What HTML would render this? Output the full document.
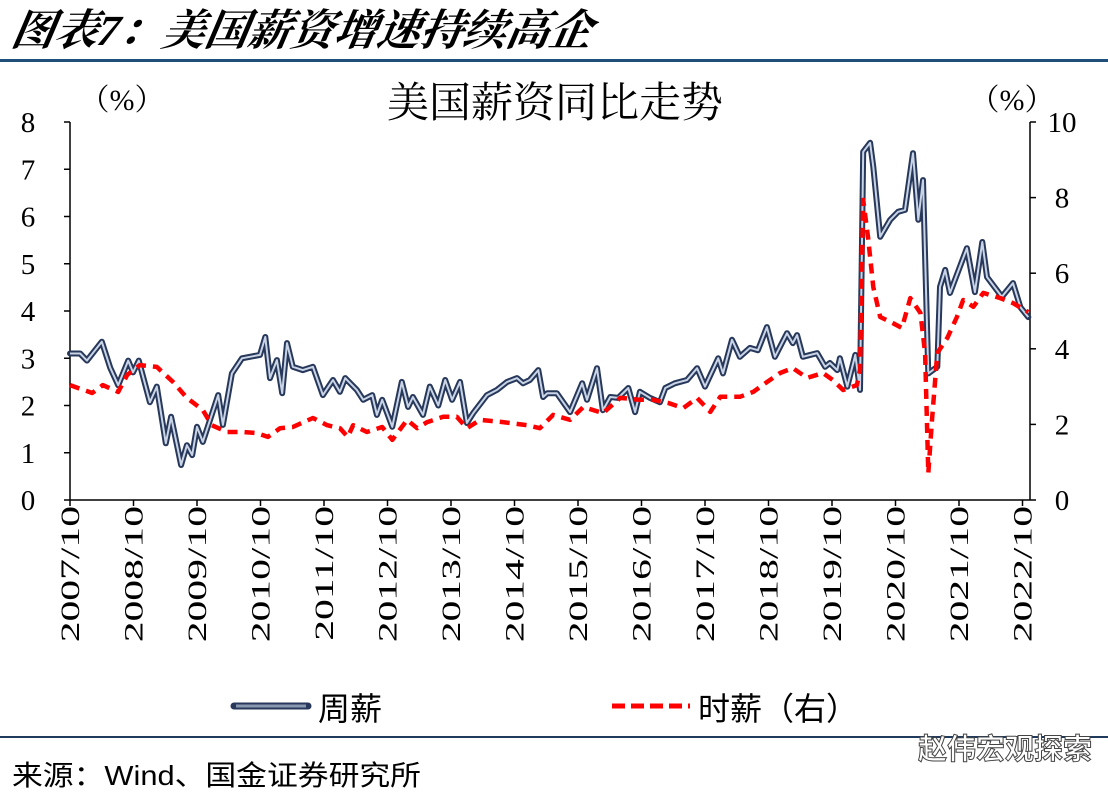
<!DOCTYPE html>
<html><head><meta charset="utf-8">
<style>
html,body{margin:0;padding:0;background:#fff;}
body{width:1108px;height:798px;position:relative;overflow:hidden;font-family:"Liberation Serif","Noto Serif CJK SC",serif;}
.t{position:absolute;white-space:nowrap;}
</style></head>
<body>
<div class="t" style="left:12px;top:7px;font-size:43px;font-style:italic;font-weight:bold;font-family:'Liberation Serif','Noto Serif CJK SC',serif;transform:skewX(-10deg);transform-origin:left;line-height:50px;">图表7：美国薪资增速持续高企</div>
<div style="position:absolute;left:0;top:59px;width:1108px;height:3px;background:#1f4e79;"></div>
<svg id="chart" width="1108" height="798" style="position:absolute;left:0;top:0;" xmlns="http://www.w3.org/2000/svg"></svg>
<div style="position:absolute;left:0;top:736px;width:1108px;height:2px;background:#1f3a5c;"></div>
<div class="t" style="left:12px;top:754px;font-size:28px;transform:scaleX(1.1);transform-origin:left;font-family:'Liberation Sans','Noto Sans CJK SC',sans-serif;">来源：Wind、国金证券研究所</div>
<div class="t" style="left:918px;top:726px;font-size:29px;font-weight:bold;color:#fff;-webkit-text-stroke:1px #444;font-family:'Noto Sans CJK SC',sans-serif;">赵伟宏观探索</div>
<script>
const weeklyMonths=[0,1.9,3.2,6,7.6,9.1,11,11.9,13,15.1,16.4,18.1,19.1,21,22.1,23.1,24,25.1,28,28.9,30.6,32.5,34,35.9,36.9,37.8,39.1,40.1,41,42.1,44,45.9,47.8,49.7,51,52,54.2,55.4,57.1,58,59,60.9,62.7,63.9,64.8,66.7,68,69.6,70.9,72.2,73.7,75,76.2,78.8,80.7,82.6,84.5,85.6,86.9,88.5,89.4,90.2,92,94.5,96.8,97.7,99.6,100.7,102.1,103.6,105.5,106.8,107.7,109.6,111.5,112.5,114.3,116.6,118.5,120,122.5,123.4,125.1,126.6,128.5,130,131.7,133.2,135.5,136.6,137.4,138.5,141.2,142.7,143.6,145,145.5,146.9,148.4,149.3,149.9,151.2,151.8,153.1,155,156.5,157.8,159.3,160.3,161.2,162.2,163.9,164.4,165.4,166.3,169.5,171,172.4,173.3,176.1,178.2,179.6,181.1];
const weeklyValues=[3.1,3.1,2.95,3.35,2.8,2.43,2.95,2.7,2.95,2.07,2.4,1.2,1.76,0.74,1.16,0.95,1.55,1.23,2.22,1.59,2.68,3.0,3.03,3.07,3.45,2.58,2.96,2.26,3.32,2.82,2.75,2.82,2.22,2.54,2.29,2.58,2.33,2.12,2.22,1.8,2.12,1.55,2.5,1.97,2.18,1.8,2.4,2.0,2.54,2.12,2.5,1.63,1.84,2.22,2.33,2.5,2.58,2.47,2.54,2.75,2.18,2.26,2.26,1.86,2.47,2.12,2.79,1.9,2.18,2.16,2.37,1.86,2.29,2.16,2.07,2.37,2.47,2.54,2.79,2.4,3.0,2.68,3.39,3.03,3.22,3.17,3.66,3.03,3.53,3.32,3.49,3.03,3.11,2.82,2.9,2.75,3.0,2.4,3.07,2.33,7.37,7.56,7.05,5.57,5.93,6.1,6.14,7.34,5.93,6.77,2.68,2.82,4.51,4.87,4.38,5.33,4.4,5.46,4.72,4.3,4.59,4.08,3.87];
const hourlyMonths=[0,4.2,6.2,9.1,10.8,13.2,16.4,19.5,22.1,25.1,26.8,29.7,32.7,35.3,37.4,39.7,42.1,45.9,48.6,51,52.5,53.5,56.1,59,60.9,63.7,65.6,67.5,70.5,73.1,75,77.5,81.8,86.4,88.8,91.3,94.5,97,100.7,104,107.7,110.2,113,115.9,118.5,121,122.9,126.6,129.1,131.7,134.2,136.6,139.3,142.3,144.2,146.1,148.7,149.3,149.9,150.8,151.8,153.1,155.5,157.2,158.8,160.7,161.6,162.2,162.9,163.9,165.8,167.6,168.8,170.7,172.6,175.8,178.2,181.1];
const hourlyValues=[3.04,2.83,3.04,2.86,3.31,3.57,3.52,3.12,2.7,2.38,1.98,1.8,1.8,1.77,1.67,1.9,1.93,2.17,1.98,1.9,1.67,1.98,1.8,1.93,1.59,2.12,1.9,2.06,2.2,2.2,1.9,2.12,2.06,1.98,1.9,2.25,2.12,2.46,2.3,2.7,2.65,2.65,2.57,2.43,2.7,2.33,2.73,2.73,2.86,3.12,3.36,3.49,3.23,3.36,3.17,2.91,3.04,3.44,7.94,6.96,5.63,4.84,4.68,4.55,5.34,4.95,3.89,0.71,2.12,3.89,4.29,4.84,5.29,5.11,5.48,5.34,5.21,4.97];
const xTickLabels=["2007/10","2008/10","2009/10","2010/10","2011/10","2012/10","2013/10","2014/10","2015/10","2016/10","2017/10","2018/10","2019/10","2020/10","2021/10","2022/10"];
const leftTicks=[0,1,2,3,4,5,6,7,8];
const rightTicks=[0,2,4,6,8,10];

const svg=document.getElementById('chart');
const NS='http://www.w3.org/2000/svg';
const X0=70,X1=1030,Y0=500,Y1=122;
const xs=m=>X0+m*(63.5/12);
const yl=v=>Y0-v*(Y0-Y1)/8;
const yr=v=>Y0-v*(Y0-Y1)/10;
function mk(tag,attrs,parent){const e=document.createElementNS(NS,tag);for(const k in attrs)e.setAttribute(k,attrs[k]);(parent||svg).appendChild(e);return e;}

let e=mk('text',{x:555,y:117,'text-anchor':'middle','font-size':'42','font-family':'Liberation Serif,Noto Serif CJK SC,serif'});
e.textContent='美国薪资同比走势';


e=mk('text',{x:122,y:110,'text-anchor':'middle','font-size':'30','font-family':'Liberation Serif,Noto Serif CJK SC,serif'});
e.textContent='（%）';


e=mk('text',{x:1012,y:110,'text-anchor':'middle','font-size':'30','font-family':'Liberation Serif,Noto Serif CJK SC,serif'});
e.textContent='（%）';



const axes=mk('g',{stroke:'#000','stroke-width':'1.5',fill:'none'});


mk('line',{x1:X0,y1:Y1,x2:X0,y2:Y0},axes);
mk('line',{x1:X1,y1:Y1,x2:X1,y2:Y0},axes);
mk('line',{x1:X0,y1:Y0,x2:X1,y2:Y0},axes);
leftTicks.forEach(v=>{
  mk('line',{x1:X0-6,y1:yl(v),x2:X0,y2:yl(v)},axes);
  const t=mk('text',{x:28,y:yl(v)+10,'text-anchor':'middle','font-size':'29','font-family':'Liberation Serif,serif',fill:'#000',stroke:'none'});
  t.textContent=v;
  
  
});
rightTicks.forEach(v=>{
  mk('line',{x1:X1,y1:yr(v),x2:X1+6,y2:yr(v)},axes);
  const t=mk('text',{x:1062,y:yr(v)+10,'text-anchor':'middle','font-size':'29','font-family':'Liberation Serif,serif',fill:'#000',stroke:'none'});
  t.textContent=v;
  
  
});
xTickLabels.forEach((l,i)=>{
  const x=xs(i*12);
  mk('line',{x1:x,y1:Y0,x2:x,y2:Y0+6},axes);
  const t=mk('text',{x:0,y:0,'text-anchor':'end','font-size':'26','font-family':'Liberation Serif,serif',fill:'#000',stroke:'none',transform:`translate(${x+9},${Y0+6}) rotate(-90) scale(1.6,1)`});
  t.textContent=l;
  
  
});

const wp=weeklyMonths.map((m,i)=>xs(m).toFixed(1)+','+yl(weeklyValues[i]).toFixed(1)).join(' ');
e=mk('polyline',{points:wp,fill:'none',stroke:'#27385a','stroke-width':'6','stroke-linejoin':'round','stroke-linecap':'round'});


e=mk('polyline',{points:wp,fill:'none',stroke:'#c9d4e6','stroke-width':'2','stroke-linejoin':'round'});


const hp=hourlyMonths.map((m,i)=>xs(m).toFixed(1)+','+yr(hourlyValues[i]).toFixed(1)).join(' ');
e=mk('polyline',{points:hp,fill:'none',stroke:'#ff0000','stroke-width':'4.5','stroke-dasharray':'10 7','stroke-linejoin':'round'});



const lg=mk('g',{});


mk('line',{x1:234,y1:706,x2:308,y2:706,stroke:'#27385a','stroke-width':'7','stroke-linecap':'round'},lg);
mk('line',{x1:236,y1:706,x2:306,y2:706,stroke:'#8898b0','stroke-width':'3'},lg);
let lt=mk('text',{x:318,y:720,'font-size':'32','font-family':'Liberation Sans,Noto Sans CJK SC,sans-serif'},lg);
lt.textContent='周薪';


mk('line',{x1:612,y1:706,x2:690,y2:706,stroke:'#ff0000','stroke-width':'5','stroke-dasharray':'13 6'},lg);
lt=mk('text',{x:698,y:720,'font-size':'32','font-family':'Liberation Sans,Noto Sans CJK SC,sans-serif'},lg);
lt.textContent='时薪（右）';


</script>
</body></html>
